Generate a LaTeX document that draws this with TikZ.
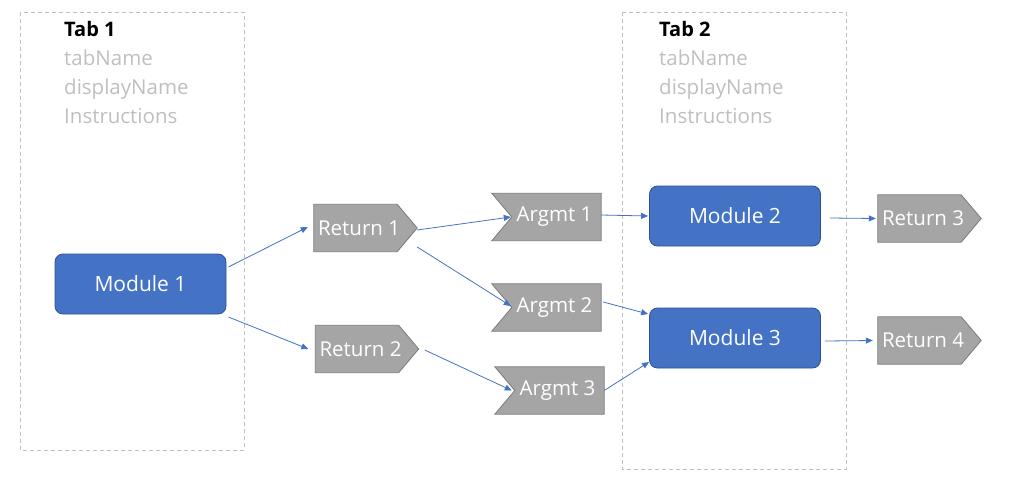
\documentclass[tikz,border=0pt]{standalone}
\usepackage{fontspec}
\setmainfont{Open Sans}
\usetikzlibrary{arrows.meta,calc,backgrounds}
\definecolor{modblue}{HTML}{4472C4}
\definecolor{modborder}{HTML}{2F528F}
\definecolor{shgray}{HTML}{A5A5A5}
\definecolor{shborder}{HTML}{7B7B7B}
\definecolor{tabgray}{HTML}{BFBFBF}
\newcommand{\shiftxt}[2]{\hspace*{#1}#2\hspace*{-#1}}
\tikzset{
  x=1pt,y=-1pt,
  tabbox/.style={draw=tabgray,dashed,line width=0.8pt,dash pattern=on 4pt off 3pt},
  tabtitle/.style={anchor=base west,inner sep=0pt,font=\fontsize{20}{22}\selectfont\bfseries,text=black},
  tabline/.style={anchor=base west,inner sep=0pt,font=\fontsize{20.5}{22}\selectfont,text=tabgray},
  module/.style={draw=modborder,fill=modblue,line width=0.8pt,rounded corners=8pt,
    minimum width=171pt,minimum height=60pt,inner sep=0pt,text=white,font=\fontsize{21}{22}\selectfont},
  body/.style={inner sep=0pt,minimum width=83pt,minimum height=47pt,text=white,font=\fontsize{20.5}{22}\selectfont},
  abody/.style={inner sep=0pt,minimum width=89pt,minimum height=47pt,text=white,font=\fontsize{20.5}{22}\selectfont},
  shapefill/.style={fill=shgray,draw=shborder,line width=0.8pt},
  conn/.style={draw=modblue,line width=0.8pt,-{Triangle[length=7pt,width=6pt]}},
}
\begin{document}
\begin{tikzpicture}
\useasboundingbox (0,0) rectangle (1015,490);
% tab boxes
\draw[tabbox] (20,12) rectangle (244,450);
\draw[tabbox] (622,12) rectangle (846,469);
\node[tabtitle] (t1) at (64,36) {Tab 1};
\node[tabline] (t1a) at (64,65) {tabName};
\node[tabline] (t1b) at (64,94) {displayName};
\node[tabline] (t1c) at (64,123) {Instructions};
\node[tabtitle] (t2) at (659,36) {Tab 2};
\node[tabline] (t2a) at (659,65) {tabName};
\node[tabline] (t2b) at (659,94) {displayName};
\node[tabline] (t2c) at (659,123) {Instructions};
% modules
\node[module] (m1) at (140.5,284) {Module 1};
\node[module] (m2) at (735,216) {Module 2};
\node[module] (m3) at (735,338) {Module 3};
% returns
\node[body] (r1) at (355.5,228) {\shiftxt{3.5pt}{Return 1}};
\node[body] (r2) at (357,349) {\shiftxt{3.5pt}{Return 2}};
\node[body] (r3) at (919.5,218.5) {\shiftxt{3.5pt}{Return 3}};
\node[body] (r4) at (919.5,340.5) {\shiftxt{3.5pt}{Return 4}};
% arguments
\node[abody] (g1) at (556.5,217) {\shiftxt{-2pt}{Argmt 1}};
\node[abody] (g2) at (556.5,307.5) {\shiftxt{-2pt}{Argmt 2}};
\node[abody] (g3) at (559.5,390.5) {\shiftxt{-2pt}{Argmt 3}};
\begin{pgfonlayer}{background}
  \foreach \r in {r1,r2,r3,r4}{
    \draw[shapefill] (\r.north west) -- (\r.north east) -- ($(\r.east)+(20,0)$) -- (\r.south east) -- (\r.south west) -- cycle;
  }
  \foreach \g in {g1,g2,g3}{
    \draw[shapefill] ($(\g.north west)+(-20,0)$) -- (\g.north east) -- (\g.south east) -- ($(\g.south west)+(-20,0)$) -- (\g.west) -- cycle;
  }
\end{pgfonlayer}
% connectors
\draw[conn] ($(m1.east)+(2,-17)$) -- ($(r1.west)+(-6,-1)$);
\draw[conn] ($(m1.east)+(2,33)$) -- ($(r2.west)+(-7,0)$);
\draw[conn] ($(r1.east)+(20,2)$) -- ($(g1.west)+(-1,0)$);
\draw[conn] ($(r1.east)+(20,19)$) -- ($(g2.west)+(-1,-1.5)$);
\draw[conn] ($(r2.east)+(26,1)$) -- ($(g3.west)+(-3,0)$);
\draw[conn] ($(g1.east)+(0,-2)$) -- ($(m2.west)+(-1,0)$);
\draw[conn] ($(g2.east)+(2,-5.5)$) -- ($(m3.west)+(-1,-24)$);
\draw[conn] (g3.east) -- ($(m3.west)+(0,24)$);
\draw[conn] ($(m2.east)+(9,2)$) -- ($(r3.west)+(-2,0)$);
\draw[conn] ($(m3.east)+(4,3)$) -- ($(r4.west)+(-5,0)$);
\end{tikzpicture}
\end{document}
